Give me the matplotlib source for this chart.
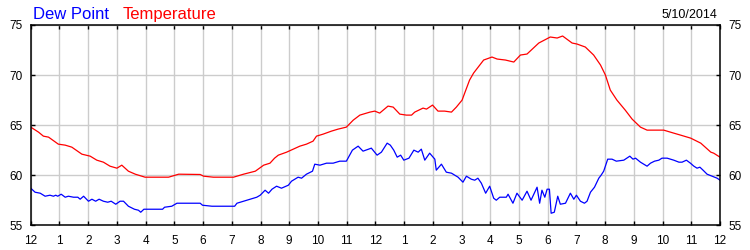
import matplotlib
matplotlib.use("Agg")
import matplotlib.pyplot as plt

plt.rcParams['font.family'] = ['Liberation Sans', 'DejaVu Sans']

# hours since midnight and readings (deg F)
temp_hours = [0.00, 0.27, 0.44, 0.62, 0.96, 1.20, 1.43, 1.78, 2.07, 2.30, 2.53, 2.76,
              3.00, 3.17, 3.40, 3.64, 3.98, 4.80, 5.15, 5.90, 6.02, 6.36, 7.06, 7.41,
              7.82, 8.11, 8.33, 8.49, 8.62, 8.91, 9.14, 9.37, 9.60, 9.83, 9.95, 10.18,
              10.47, 10.70, 10.99, 11.23, 11.46, 11.81, 11.98, 12.15, 12.44, 12.62, 12.85,
              13.08, 13.26, 13.37, 13.66, 13.78, 13.99, 14.18, 14.41, 14.65, 14.82, 15.02,
              15.11, 15.28, 15.42, 15.77, 16.06, 16.24, 16.53, 16.82, 17.05, 17.28, 17.69,
              18.09, 18.33, 18.52, 18.85, 19.02, 19.31, 19.60, 19.84, 20.01, 20.18, 20.41,
              20.70, 20.94, 21.23, 21.46, 22.04, 22.39, 22.63, 22.98, 23.33, 23.68, 23.78,
              24.00]
temperature = [64.8, 64.3, 63.9, 63.8, 63.1, 63.0, 62.8, 62.1, 61.9, 61.5, 61.3, 60.9,
               60.7, 61.0, 60.4, 60.1, 59.8, 59.8, 60.1, 60.07, 59.9, 59.8, 59.8, 60.1,
               60.4, 61.0, 61.2, 61.7, 62.0, 62.3, 62.6, 62.9, 63.1, 63.4, 63.9, 64.1,
               64.4, 64.6, 64.8, 65.5, 66.0, 66.3, 66.4, 66.2, 66.9, 66.8, 66.1,
               66.0, 66.0, 66.3, 66.7, 66.6, 67.0, 66.4, 66.4, 66.3, 66.8, 67.5,
               68.2, 69.5, 70.2, 71.5, 71.8, 71.6, 71.5, 71.3, 72.0, 72.1, 73.2,
               73.8, 73.7, 73.9, 73.2, 73.1, 72.8, 72.0, 71.0, 70.0, 68.5, 67.5,
               66.5, 65.6, 64.8, 64.5, 64.5, 64.2, 64.0, 63.7, 63.2, 62.3, 62.2,
               61.8]

dew_hours = [0.00, 0.15, 0.33, 0.50, 0.67, 0.79, 0.87, 0.94, 1.06, 1.20, 1.31, 1.49,
             1.64, 1.72, 1.84, 2.01, 2.13, 2.26, 2.38, 2.53, 2.68, 2.80, 2.96, 3.11,
             3.23, 3.40, 3.61, 3.75, 3.83, 3.94, 4.59, 4.66, 4.91, 5.09, 5.90, 5.98,
             6.31, 7.10, 7.18, 7.41, 7.64, 7.87, 7.99, 8.16, 8.28, 8.40, 8.56, 8.73,
             8.97, 9.08, 9.31, 9.43, 9.60, 9.81, 9.89, 10.07, 10.30, 10.53, 10.76, 10.99,
             11.20, 11.40, 11.57, 11.86, 12.06, 12.21, 12.41, 12.52, 12.64, 12.76, 12.88,
             12.99, 13.17, 13.34, 13.49, 13.60, 13.72, 13.89, 14.07, 14.12, 14.30, 14.47,
             14.65, 14.88, 15.05, 15.17, 15.34, 15.46, 15.57, 15.69, 15.84, 15.98, 16.12,
             16.21, 16.33, 16.56, 16.62, 16.79, 16.93, 17.11, 17.28, 17.42, 17.63, 17.72,
             17.80, 17.90, 17.98, 18.06, 18.12, 18.23, 18.35, 18.44, 18.62, 18.79, 18.91,
             19.00, 19.14, 19.28, 19.37, 19.49, 19.63, 19.78, 19.86, 19.95, 20.09, 20.24,
             20.39, 20.65, 20.86, 20.97, 21.06, 21.23, 21.46, 21.58, 21.72, 21.87, 21.98,
             22.16, 22.39, 22.57, 22.68, 22.83, 22.97, 23.09, 23.20, 23.30, 23.41, 23.55,
             23.73, 23.90, 24.00]
dew_point = [58.7, 58.3, 58.2, 57.9, 58.0, 57.9, 58.0, 57.9, 58.1, 57.8, 57.9, 57.8,
             57.8, 57.6, 57.9, 57.4, 57.6, 57.4, 57.6, 57.4, 57.3, 57.4, 57.1, 57.4,
             57.4, 56.9, 56.6, 56.5, 56.3, 56.6, 56.6, 56.8, 56.9, 57.2, 57.2, 57.0,
             56.9, 56.9, 57.2, 57.4, 57.6, 57.8, 58.0, 58.5, 58.2, 58.6, 58.9, 58.7,
             59.0, 59.4, 59.8, 59.7, 60.1, 60.4, 61.1, 61.0, 61.2, 61.2, 61.4, 61.4,
             62.5, 62.9, 62.4, 62.7, 62.0, 62.3, 63.2, 63.0, 62.5, 61.8, 62.0,
             61.5, 61.7, 62.5, 62.3, 62.6, 61.5, 62.2, 61.6, 60.5, 61.1, 60.3,
             60.2, 59.8, 59.3, 59.9, 59.6, 59.5, 59.7, 59.2, 58.2, 58.9, 57.7,
             57.5, 57.8, 57.8, 58.1, 57.2, 58.2, 57.5, 58.4, 57.5, 58.8, 57.2,
             58.5, 57.8, 58.6, 58.6, 56.2, 56.3, 57.9, 57.1, 57.2, 58.2, 57.6,
             58.0, 57.4, 57.2, 57.4, 58.3, 58.8, 59.7, 60.0, 60.4, 61.6, 61.6,
             61.4, 61.5, 61.9, 61.6, 61.7, 61.3, 60.9, 61.2, 61.4, 61.5, 61.7,
             61.7, 61.5, 61.3, 61.3, 61.5, 61.2, 60.9, 60.7, 60.8, 60.5, 60.1,
             59.9, 59.7, 59.5]

hour_ticks = list(range(25))
hour_labels = ['12', '1', '2', '3', '4', '5', '6', '7', '8', '9', '10', '11',
               '12', '1', '2', '3', '4', '5', '6', '7', '8', '9', '10', '11', '12']
temp_ticks = [55, 60, 65, 70, 75]

fig = plt.figure(figsize=(7.5, 2.5), dpi=100)
ax = fig.add_axes([0.041, 0.099, 0.919, 0.801])

ax.plot(dew_hours, dew_point, color='#0000ff', lw=0.9)
ax.plot(temp_hours, temperature, color='#ff0000', lw=0.9)

ax.set_xlim(0, 24)
ax.set_ylim(55, 75)
ax.set_xticks(hour_ticks)
ax.set_xticklabels(hour_labels)
ax.set_yticks(temp_ticks)
ax.grid(True, color='#cccccc', lw=1)
ax.set_axisbelow(True)

ax.tick_params(axis='both', direction='in', length=3, width=1, labelsize=8.5,
               top=True, right=True, labelright=True, pad=6)
ax.tick_params(axis='x', pad=7)
for s in ax.spines.values():
    s.set_linewidth(1.1)
    s.set_color('black')

fig.text(0.044, 0.925, 'Dew Point', color='#0000ff', fontsize=12)
fig.text(0.164, 0.925, 'Temperature', color='#ff0000', fontsize=12)
fig.text(0.956, 0.93, '5/10/2014', color='black', fontsize=9, ha='right')

fig.savefig('out.png', dpi=100)
